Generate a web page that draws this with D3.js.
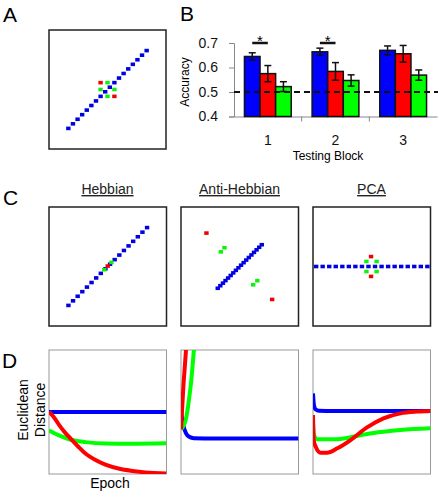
<!DOCTYPE html>
<html><head><meta charset="utf-8">
<script src="https://cdn.jsdelivr.net/npm/d3@7"></script>
<style>body{margin:0;background:#fff} svg{display:block;font-family:Arial,"Liberation Sans",sans-serif}</style>
</head><body><svg id="c" width="438" height="494"></svg>
<script>
// ---------- Panel B data ----------
const blocks = ["1","2","3"];
const seriesKeys = ["blue","red","green"];
const accBlue  = [0.645,0.664,0.670];
const accRed   = [0.575,0.584,0.656];
const accGreen = [0.522,0.547,0.569];
const errBlue  = [0.015,0.015,0.018];
const errRed   = [0.033,0.036,0.034];
const errGreen = [0.020,0.023,0.021];
const yTicks = [0.4,0.5,0.6,0.7];
const chanceLevel = 0.5;
const sigBlocks = ["1","2"];
const sigLevel = 0.7;

// ---------- Panel A / C point data (unit grid) ----------
const aBlueX = [-8.5,-7.5,-6.5,-5.5,-4.5,-3.5,-2.5,-1.5,-0.5,0.5,1.5,2.5,3.5,4.5,5.5,6.5,7.5,8.5];
const aBlueY = [-8.5,-7.5,-6.5,-5.5,-4.5,-3.5,-2.5,-1.5,-0.5,0.5,1.5,2.5,3.5,4.5,5.5,6.5,7.5,8.5];
const aRedX = [-1.5,1.5], aRedY = [1.5,-1.5];
const aGreenX = [0,-1.5,1.5,0], aGreenY = [1.5,0,0,-1.5];

const hebBlueX = [-8.5,-7.5,-6.5,-5.5,-4.5,-3.5,-2.5,-1.5,-0.5,0.5,1.5,2.5,3.5,4.5,5.5,6.5,7.5,8.5];
const hebBlueY = [-8.5,-7.5,-6.5,-5.5,-4.5,-3.5,-2.5,-1.5,-0.5,0.5,1.5,2.5,3.5,4.5,5.5,6.5,7.5,8.5];
const hebRedX = [0.0], hebRedY = [0.1];
const hebGreenX = [-0.75,0.8], hebGreenY = [-0.7,0.9];

const antiBlueX = [-4.76,-4.2,-3.64,-3.08,-2.52,-1.96,-1.4,-0.84,-0.28,0.28,0.84,1.4,1.96,2.52,3.08,3.64,4.2,4.76];
const antiBlueY = [-4.76,-4.2,-3.64,-3.08,-2.52,-1.96,-1.4,-0.84,-0.28,0.28,0.84,1.4,1.96,2.52,3.08,3.64,4.2,4.76];
const antiRedX = [-7.2,7.0], antiRedY = [7.3,-7.2];
const antiGreenX = [-4.1,-3.3,2.9,3.8], antiGreenY = [3.2,4.1,-4.0,-3.1];

const pcaBlueX = [-12.02,-10.61,-9.19,-7.78,-6.36,-4.95,-3.54,-2.12,-0.71,0.71,2.12,3.54,4.95,6.36,7.78,9.19,10.61,12.02];
const pcaBlueY = [0,0,0,0,0,0,0,0,0,0,0,0,0,0,0,0,0,0];
const pcaRedX = [-0.15,-0.15], pcaRedY = [2.17,-2.17];
const pcaGreenX = [-1.15,1.05,-1.15,1.05], pcaGreenY = [1.1,1.1,-1.1,-1.1];

const panelTitles = ["Hebbian","Anti-Hebbian","PCA"];

// ---------- Panel D data (epoch fraction, distance) ----------
const d1BlueX = [0,1], d1BlueY = [0.5,0.5];
const d1RedX = [0,0.04,0.09,0.14,0.19,0.25,0.31,0.40,0.48,0.60,0.71,0.82,1];
const d1RedY = [0.5,0.46,0.39,0.33,0.28,0.22,0.165,0.11,0.075,0.042,0.025,0.013,0.005];
const d1GreenX = [0,0.085,0.185,0.31,0.48,0.68,1];
const d1GreenY = [0.351,0.311,0.276,0.257,0.245,0.243,0.247];

const d2BlueX = [0,0.02,0.042,0.07,0.11,0.2,1];
const d2BlueY = [0.5,0.39,0.33,0.30,0.288,0.287,0.287];
const d2RedX = [0,0.008,0.02,0.035,0.05];
const d2RedY = [0.36,0.5,0.7,0.9,1.1];
const d2GreenX = [0,0.04,0.068,0.088,0.11,0.12];
const d2GreenY = [0.36,0.435,0.6,0.76,1.0,1.1];

const d3BlueX = [0,0.008,0.023,0.05,0.178,1];
const d3BlueY = [0.65,0.556,0.52,0.51,0.508,0.508];
const d3RedX = [0,0.006,0.023,0.065,0.12,0.207,0.32,0.46,0.6,0.745,0.885,1];
const d3RedY = [0.476,0.274,0.22,0.172,0.172,0.207,0.274,0.376,0.449,0.489,0.503,0.508];
const d3GreenX = [0,0.008,0.037,0.178,0.32,0.46,0.6,0.745,1];
const d3GreenY = [0.41,0.315,0.28,0.28,0.296,0.323,0.341,0.355,0.368];

// ---------- styling ----------
const COL = {blue:"#0000ff", red:"#ff0000", green:"#00ff00"};
const DOT = {blue:"#0000e0", red:"#f00000", green:"#10f010"};
const svg = d3.select("#c");

function letter(t,x,y){ svg.append("text").attr("x",x).attr("y",y).attr("font-size",21).text(t); }
letter("A",3,22); letter("B",180,21); letter("C",3,205); letter("D",2,368);

// ---------- scatter panels ----------
function scatter(x0,y0,w,h,bx,by,rx,ry,gx,gy){
  const g = svg.append("g");
  const x = d3.scaleLinear().domain([-12.7,12.7]).range([x0,x0+w]);
  const y = d3.scaleLinear().domain([-13,13]).range([y0+h,y0]);
  g.append("rect").attr("x",x0).attr("y",y0).attr("width",w).attr("height",h)
    .attr("fill","#fff").attr("stroke","#222").attr("stroke-width",1.5);
  const sets = [["blue",bx,by],["green",gx,gy],["red",rx,ry]];
  sets.forEach(([k,xs,ys])=>{
    g.selectAll(null).data(xs.map((v,i)=>[v,ys[i]])).join("rect")
      .attr("x",d=>x(d[0])-2.2).attr("y",d=>y(d[1])-1.8)
      .attr("width",4.4).attr("height",3.6).attr("fill",DOT[k]);
  });
}
scatter(49,30,117,119,aBlueX,aBlueY,aRedX,aRedY,aGreenX,aGreenY);
const cX = [49,181,313];
scatter(cX[0],207,117.5,119,hebBlueX,hebBlueY,hebRedX,hebRedY,hebGreenX,hebGreenY);
scatter(cX[1],207,117.5,119,antiBlueX,antiBlueY,antiRedX,antiRedY,antiGreenX,antiGreenY);
scatter(cX[2],207,117.5,119,pcaBlueX,pcaBlueY,pcaRedX,pcaRedY,pcaGreenX,pcaGreenY);
panelTitles.forEach((t,i)=>{
  svg.append("text").attr("x",cX[i]+58.5).attr("y",194).attr("text-anchor","middle")
    .attr("font-size",14).attr("fill","#222").attr("text-decoration","underline").text(t);
});

// ---------- Panel B ----------
(function(){
  const xCat = d3.scaleBand().domain(blocks).range([234,437]).padding(0);
  const xSer = d3.scaleBand().domain(seriesKeys).range([0,xCat.bandwidth()]).paddingOuter(0.67).paddingInner(0);
  const y = d3.scaleLinear().domain([0.4,0.7]).range([116.5,43]);
  const vals = {blue:accBlue, red:accRed, green:accGreen};
  const errs = {blue:errBlue, red:errRed, green:errGreen};
  const g = svg.append("g");
  // y axis
  const ya = g.append("g").attr("transform","translate(234,0)")
    .call(d3.axisLeft(y).tickValues(yTicks).tickFormat(d3.format(".1f")).tickSize(5).tickPadding(11));
  ya.select(".domain").attr("stroke","#888");
  ya.selectAll(".tick line").attr("stroke","#888");
  ya.selectAll("text").attr("font-size",14).attr("font-family","Arial, 'Liberation Sans', sans-serif").attr("fill","#111");
  // x axis
  const xa = g.append("g").attr("transform",`translate(0,${y(0.4)})`)
    .call(d3.axisBottom(xCat).tickSize(0).tickPadding(19));
  xa.select(".domain").attr("stroke","#888");
  xa.selectAll("text").attr("font-size",14).attr("font-family","Arial, 'Liberation Sans', sans-serif").attr("fill","#111");
  // boundary ticks
  g.selectAll(null).data(blocks.slice(1)).join("line")
    .attr("x1",d=>xCat(d)).attr("x2",d=>xCat(d)).attr("y1",y(0.4)).attr("y2",y(0.4)+5).attr("stroke","#888");
  // bars
  blocks.forEach((b,i)=>{
    seriesKeys.forEach(k=>{
      const x0 = xCat(b)+xSer(k), bw = xSer.bandwidth(), v = vals[k][i], e = errs[k][i];
      g.append("rect").attr("x",x0).attr("y",y(v)).attr("width",bw).attr("height",y(0.4)-y(v))
        .attr("fill",COL[k]).attr("stroke","#111").attr("stroke-width",1.5);
      const cx = x0+bw/2;
      g.append("line").attr("x1",cx).attr("x2",cx).attr("y1",y(v-e)).attr("y2",y(v+e)).attr("stroke","#111").attr("stroke-width",1.5);
      [v-e,v+e].forEach(t=>g.append("line").attr("x1",cx-3.5).attr("x2",cx+3.5).attr("y1",y(t)).attr("y2",y(t)).attr("stroke","#111").attr("stroke-width",1.5));
    });
  });
  // chance line
  g.append("line").attr("x1",234).attr("x2",438).attr("y1",y(chanceLevel)).attr("y2",y(chanceLevel))
    .attr("stroke","#111").attr("stroke-width",2).attr("stroke-dasharray","6,4");
  // significance
  sigBlocks.forEach(b=>{
    const a = xCat(b)+xSer("blue")+xSer.bandwidth()/2, c = xCat(b)+xSer("red")+xSer.bandwidth()/2;
    g.append("line").attr("x1",a).attr("x2",c).attr("y1",y(sigLevel)).attr("y2",y(sigLevel)).attr("stroke","#111").attr("stroke-width",2.5);
    g.append("text").attr("x",(a+c)/2).attr("y",y(sigLevel)+3).attr("text-anchor","middle").attr("font-size",15).text("*");
  });
  g.append("text").attr("transform","translate(189,82) rotate(-90)").attr("text-anchor","middle").attr("font-size",12).text("Accuracy");
  g.append("text").attr("x",328).attr("y",160).attr("text-anchor","middle").attr("font-size",12).text("Testing Block");
})();

// ---------- Panel D ----------
function linePanel(x0,sets,id){
  const y0 = 350, w = 117.5, h = 124;
  const x = d3.scaleLinear().domain([0,1]).range([x0,x0+w]);
  const y = d3.scaleLinear().domain([0,1]).range([y0+h,y0]);
  svg.append("clipPath").attr("id",id).append("rect").attr("x",x0).attr("y",y0).attr("width",w).attr("height",h);
  const g = svg.append("g");
  g.append("rect").attr("x",x0).attr("y",y0).attr("width",w).attr("height",h).attr("fill","#fff").attr("stroke","#999").attr("stroke-width",1);
  const line = d3.line().x(d=>x(d[0])).y(d=>y(d[1])).curve(d3.curveMonotoneX);
  const lg = g.append("g").attr("clip-path",`url(#${id})`);
  sets.forEach(([k,xs,ys])=>{
    lg.append("path").attr("d",line(xs.map((v,i)=>[v,ys[i]]))).attr("fill","none")
      .attr("stroke",COL[k]).attr("stroke-width",4);
  });
}
linePanel(49,[["blue",d1BlueX,d1BlueY],["green",d1GreenX,d1GreenY],["red",d1RedX,d1RedY]],"cd1");
linePanel(181,[["blue",d2BlueX,d2BlueY],["green",d2GreenX,d2GreenY],["red",d2RedX,d2RedY]],"cd2");
linePanel(313,[["blue",d3BlueX,d3BlueY],["green",d3GreenX,d3GreenY],["red",d3RedX,d3RedY]],"cd3");
svg.append("text").attr("transform","translate(28,410) rotate(-90)").attr("text-anchor","middle").attr("font-size",14).text("Euclidean");
svg.append("text").attr("transform","translate(45,410) rotate(-90)").attr("text-anchor","middle").attr("font-size",14).text("Distance");
svg.append("text").attr("x",110).attr("y",488).attr("text-anchor","middle").attr("font-size",14).text("Epoch");
</script></body></html>
